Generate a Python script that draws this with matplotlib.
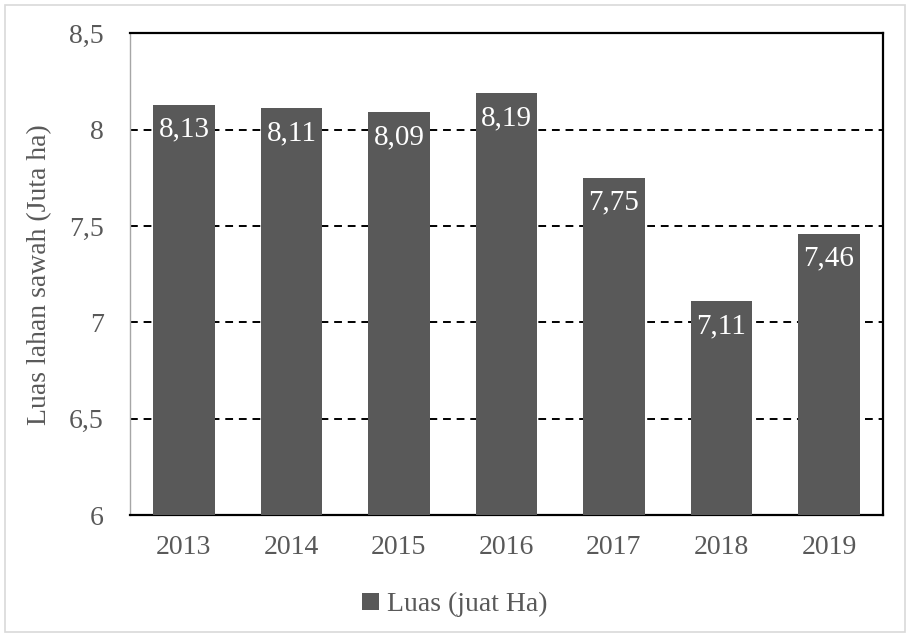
import matplotlib
matplotlib.use("Agg")
import matplotlib.pyplot as plt
from matplotlib.patches import Rectangle

years = ["2013", "2014", "2015", "2016", "2017", "2018", "2019"]
luas = [8.13, 8.11, 8.09, 8.19, 7.75, 7.11, 7.46]
yticks = [6, 6.5, 7, 7.5, 8, 8.5]

plt.rcParams['font.family'] = ['Liberation Serif', 'DejaVu Serif']
grey = '#595959'

fig = plt.figure(figsize=(9.1, 6.4), dpi=100)
fig.patches.append(Rectangle((0.006, 0.012), 0.988, 0.98, transform=fig.transFigure,
                             fill=False, edgecolor='#d9d9d9', linewidth=1.2))
ax = fig.add_axes([0.143, 0.195, 0.827, 0.753])

x = list(range(len(years)))
bars = ax.bar(x, luas, width=0.57, color=grey, zorder=3, label='Luas (juat Ha)')
ax.set_xlim(-0.5, len(years) - 0.5)
ax.set_ylim(6, 8.5)
ax.set_yticks(yticks)
ax.set_yticklabels([("%g" % v).replace('.', ',') for v in yticks])
ax.set_xticks(x)
ax.set_xticklabels(years)
for v in [6.5, 7, 7.5, 8]:
    ax.axhline(v, color='black', linestyle=(0, (4, 3)), linewidth=1.4, zorder=2)

for xi, v in zip(x, luas):
    ax.annotate(("%.2f" % v).replace('.', ','), (xi, v), xytext=(0, -18),
                textcoords='offset points', ha='center', va='center',
                color='white', fontsize=21, zorder=4)

ax.tick_params(axis='both', length=0, labelsize=20, colors=grey)
ax.tick_params(axis='x', pad=14)
ax.tick_params(axis='y', pad=19)
for s in ['top', 'right', 'bottom']:
    ax.spines[s].set_color('black')
    ax.spines[s].set_linewidth(1.6)
ax.spines['left'].set_color('#a6a6a6')
ax.spines['left'].set_linewidth(1.0)
ax.set_ylabel('Luas lahan sawah (Juta ha)', fontsize=20, color=grey, labelpad=12)

leg = fig.legend(handles=[bars], labels=['Luas (juat Ha)'], loc='center',
                 bbox_to_anchor=(0.5, 0.055), frameon=False, fontsize=20,
                 handlelength=0.6, handleheight=0.6, handletextpad=0.3)
for t in leg.get_texts():
    t.set_color(grey)

fig.savefig('out.png', dpi=100)
